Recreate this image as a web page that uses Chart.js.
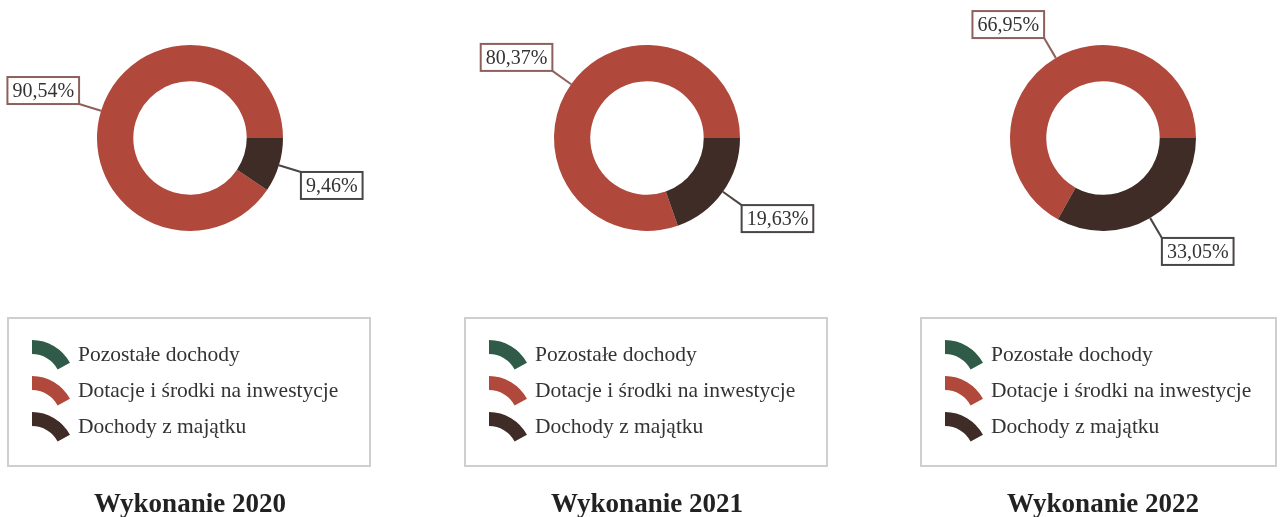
<!DOCTYPE html>
<html>
<head>
<meta charset="utf-8">
<script src="https://cdn.jsdelivr.net/npm/chart.js@4/dist/chart.umd.min.js"></script>
<style>
  html, body { margin: 0; padding: 0; background: #fff; }
  #wrap { position: relative; width: 1282px; height: 517px; }
  #wrap canvas { position: absolute; top: 0; }
</style>
</head>
<body>
<div id="wrap">
  <canvas id="c2020" width="427" height="517" style="left:0px"></canvas>
  <canvas id="c2021" width="427" height="517" style="left:427px"></canvas>
  <canvas id="c2022" width="427" height="517" style="left:855px"></canvas>
</div>
<script>
// dane
const categories = ['Pozostałe dochody', 'Dotacje i środki na inwestycje', 'Dochody z majątku'];
const years = ['2020', '2021', '2022'];
const shares2020 = [0, 90.54, 9.46];
const shares2021 = [0, 80.37, 19.63];
const shares2022 = [0, 66.95, 33.05];
const titlePrefix = 'Wykonanie';

// kolory
const colors = ['#2f5b48', '#b0483b', '#3f2c26'];
const labelBorders = ['#2f5b48', '#8e605b', '#4a4644'];

const SERIF = '"Liberation Serif", "Times New Roman", serif';

// układ kolumn
const colLeft = [0, 427, 855];
const centerX = [190, 647, 1103];
const centerY = 138;
const outerR = 93;
const COL_W = 427, COL_H = 517;

function fmt(v) {
  return v.toFixed(2).replace('.', ',') + '%';
}

// etykiety z ramką, legenda w ramce i podpis
const decorPlugin = {
  id: 'decor',
  afterDraw(chart) {
    const ctx = chart.ctx;
    const meta = chart.getDatasetMeta(0);
    const values = chart.data.datasets[0].data;
    const cx = (chart.chartArea.left + chart.chartArea.right) / 2;

    // etykiety wartości
    ctx.save();
    ctx.font = '20px ' + SERIF;
    meta.data.forEach((arc, i) => {
      const v = values[i];
      if (!v) return;
      const p = arc.getProps(['x', 'y', 'startAngle', 'endAngle', 'outerRadius'], true);
      const mid = (p.startAngle + p.endAngle) / 2;
      const dx = Math.cos(mid), dy = Math.sin(mid);
      const ax = p.x + dx * p.outerRadius, ay = p.y + dy * p.outerRadius;
      const L = 23;
      const kx = ax + dx * L, ky = ay + dy * L;
      const text = fmt(v);
      const w = ctx.measureText(text).width + 10, h = 27;
      const bx = dx > 0 ? kx : kx - w;
      const by = dy > 0 ? ky : ky - h;
      ctx.strokeStyle = labelBorders[i];
      ctx.lineWidth = 2;
      ctx.beginPath();
      ctx.moveTo(ax, ay);
      ctx.lineTo(kx, ky);
      ctx.stroke();
      ctx.fillStyle = '#fff';
      ctx.fillRect(bx, by, w, h);
      ctx.strokeRect(bx, by, w, h);
      ctx.fillStyle = '#333';
      ctx.textAlign = 'center';
      ctx.textBaseline = 'middle';
      ctx.fillText(text, bx + w / 2, by + h / 2 + 1);
    });
    ctx.restore();

    // legenda
    const boxX = cx - 182, boxY = 318, boxH = 148;
    const boxW = Math.min(362, chart.width - boxX - 6);
    ctx.save();
    ctx.strokeStyle = '#cfcfcf';
    ctx.lineWidth = 2;
    ctx.strokeRect(boxX, boxY, boxW, boxH);
    ctx.font = '21.5px ' + SERIF;
    ctx.textAlign = 'left';
    ctx.textBaseline = 'alphabetic';
    chart.data.labels.forEach((lab, i) => {
      const base = 361 + i * 36;
      const ax = boxX + 24, ay = base + 22;
      const a0 = -Math.PI / 2, a1 = a0 + 62 * Math.PI / 180;
      ctx.fillStyle = colors[i];
      ctx.beginPath();
      ctx.arc(ax, ay, 43, a0, a1);
      ctx.arc(ax, ay, 29, a1, a0, true);
      ctx.closePath();
      ctx.fill();
      ctx.fillStyle = '#333';
      ctx.fillText(lab, boxX + 70, base);
    });
    ctx.restore();

    // podpis
    ctx.save();
    ctx.font = 'bold 27px ' + SERIF;
    ctx.fillStyle = '#222';
    ctx.textAlign = 'center';
    ctx.textBaseline = 'alphabetic';
    ctx.fillText(chart.options.plugins.decor.title, cx, 512);
    ctx.restore();
  }
};

const allShares = [shares2020, shares2021, shares2022];

years.forEach((yr, k) => {
  const data = allShares[k];
  // ostatni segment zaczyna się na godzinie 3
  const rotation = 90 + 360 * data[2] / 100;
  const L = colLeft[k];
  new Chart(document.getElementById('c' + yr), {
    type: 'doughnut',
    data: {
      labels: categories,
      datasets: [{
        data: data,
        backgroundColor: colors,
        borderWidth: 0,
        hoverOffset: 0
      }]
    },
    options: {
      responsive: false,
      animation: false,
      cutout: '61%',
      rotation: rotation,
      layout: {
        padding: {
          left: centerX[k] - L - outerR,
          right: L + COL_W - (centerX[k] + outerR),
          top: centerY - outerR,
          bottom: COL_H - centerY - outerR
        }
      },
      plugins: {
        legend: { display: false },
        tooltip: { enabled: false },
        decor: { title: titlePrefix + ' ' + yr }
      }
    },
    plugins: [decorPlugin]
  });
});
</script>
</body>
</html>
